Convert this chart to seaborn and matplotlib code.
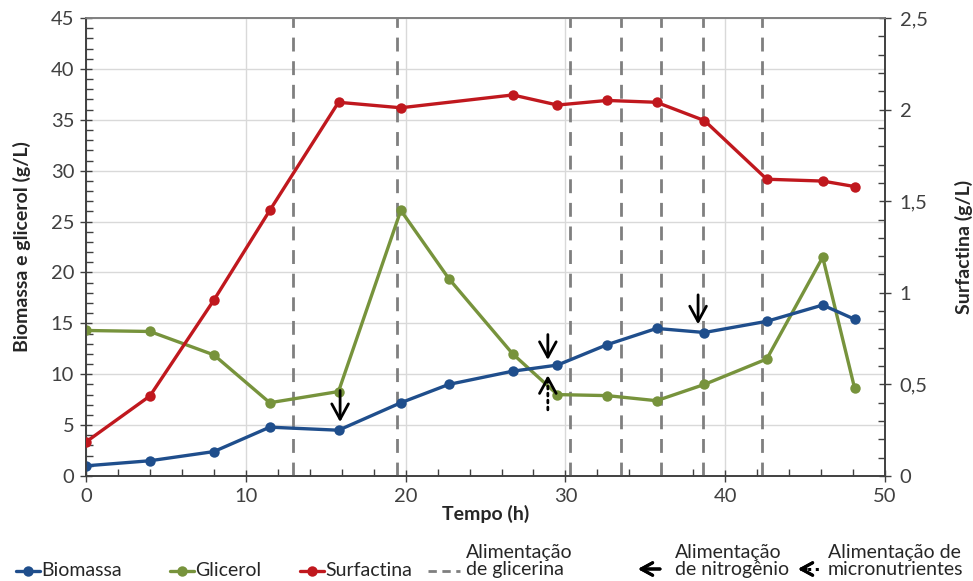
import numpy as np
import pandas as pd
import seaborn as sns
import matplotlib
matplotlib.use("Agg")
import matplotlib.pyplot as plt
from matplotlib.lines import Line2D
from matplotlib.ticker import MultipleLocator, FuncFormatter

# Sampling times (h)
tempo = [0, 4, 8, 11.5, 15.8, 19.7, 22.7, 26.7, 29.5, 32.6, 35.7, 38.7, 42.6, 46.1, 48.1]
biomassa = [1.0, 1.5, 2.4, 4.8, 4.5, 7.2, 9.0, 10.3, 10.9, 12.9, 14.5, 14.1, 15.2, 16.8, 15.4]
glicerol = [14.3, 14.2, 11.9, 7.2, 8.3, 26.1, 19.4, 12.0, 8.0, 7.9, 7.4, 9.0, 11.5, 21.5, 8.6]

# Surfactin was not measured at 22.7 h
tempo_surf = [0, 4, 8, 11.5, 15.8, 19.7, 26.7, 29.5, 32.6, 35.7, 38.7, 42.6, 46.1, 48.1]
surfactina = [0.186, 0.437, 0.96, 1.45, 2.04, 2.01, 2.08, 2.025, 2.05, 2.04, 1.94, 1.62, 1.61, 1.58]

# Feeding events (h)
alim_glicerina = [12.95, 19.45, 30.3, 33.5, 36.0, 38.6, 42.3]
# (x, y_start, y_end) on the left axis
alim_nitrogenio = [(15.9, 8.4, 5.3), (28.9, 13.9, 11.4), (38.3, 17.8, 14.9)]
alim_micro = [(28.9, 6.5, 9.9)]

c_bio = "#1F4E8C"
c_gli = "#77933C"
c_sur = "#C0181E"

sns.set_theme(style="white")
plt.rcParams["font.family"] = ["Lato", "DejaVu Sans"]

fig = plt.figure(figsize=(9.73, 5.81), dpi=100)
ax = fig.add_axes([0.0884, 0.1807, 0.8212, 0.7883])
ax2 = ax.twinx()

df = pd.DataFrame({"Tempo": tempo, "Biomassa": biomassa, "Glicerol": glicerol})
dfs = pd.DataFrame({"Tempo": tempo_surf, "Surfactina": surfactina})

line_kw = dict(marker="o", markersize=7.5, linewidth=2.4, markeredgewidth=0)
sns.lineplot(data=df, x="Tempo", y="Biomassa", ax=ax, color=c_bio, sort=False, zorder=5, **line_kw)
sns.lineplot(data=df, x="Tempo", y="Glicerol", ax=ax, color=c_gli, sort=False, zorder=4, **line_kw)
sns.lineplot(data=dfs, x="Tempo", y="Surfactina", ax=ax2, color=c_sur, sort=False, zorder=5, **line_kw)

# Glycerin feeding lines
for xv in alim_glicerina:
    ax.axvline(xv, color="#7F7F7F", linestyle=(0, (5, 3.5)), linewidth=2.0, zorder=3)

# Nitrogen feeding arrows (solid) and micronutrient arrows (dotted shaft, solid head)
arrow_style = "->,head_length=0.55,head_width=0.3"
for xv, y0, y1 in alim_nitrogenio:
    ax.annotate("", xy=(xv, y1), xytext=(xv, y0),
                arrowprops=dict(arrowstyle=arrow_style, color="black", lw=2.0,
                                mutation_scale=20, shrinkA=0, shrinkB=0), zorder=7)
for xv, y0, y1 in alim_micro:
    ax.annotate("", xy=(xv, y1), xytext=(xv, y0),
                arrowprops=dict(arrowstyle="-", color="black", lw=2.0,
                                linestyle=(0, (1, 1.5)), shrinkA=0, shrinkB=0), zorder=7)
    ax.annotate("", xy=(xv, y1), xytext=(xv, y1 - 0.2 * (y1 - y0)),
                arrowprops=dict(arrowstyle=arrow_style, color="black", lw=2.0,
                                mutation_scale=20, shrinkA=0, shrinkB=0), zorder=7)

# Axes limits and ticks
ax.set_xlim(0, 50)
ax.set_ylim(0, 45)
ax2.set_ylim(0, 2.5)
ax.xaxis.set_major_locator(MultipleLocator(10))
ax.xaxis.set_minor_locator(MultipleLocator(2))
ax.yaxis.set_major_locator(MultipleLocator(5))
ax.yaxis.set_minor_locator(MultipleLocator(1))
ax2.yaxis.set_major_locator(MultipleLocator(0.5))
ax2.yaxis.set_minor_locator(MultipleLocator(0.1))
ax2.yaxis.set_major_formatter(FuncFormatter(lambda v, p: f"{v:g}".replace(".", ",")))

ax.grid(True, which="major", color="#D9D9D9", linewidth=1.0)
ax.set_axisbelow(True)

ax.tick_params(axis="both", which="major", direction="inout", length=9, width=1.0,
               color="#404040", labelsize=14.5, labelcolor="#404040", pad=4,
               left=True, bottom=True)
ax.tick_params(axis="both", which="minor", direction="in", length=5, width=1.0,
               color="#404040", left=True, bottom=True)
ax2.tick_params(axis="y", which="major", direction="inout", length=9, width=1.0,
                color="#404040", labelsize=14.5, labelcolor="#404040", right=True, pad=6)
ax2.tick_params(axis="y", which="minor", direction="in", length=5, width=1.0,
                color="#404040", right=True)

for a in (ax, ax2):
    for side in ("left", "bottom", "right"):
        a.spines[side].set_color("#404040")
        a.spines[side].set_linewidth(1.2)
    a.spines["top"].set_color("#808080")
    a.spines["top"].set_linewidth(1.2)

ax.set_xlabel("Tempo (h)", fontsize=14, fontweight="bold", color="#262626", labelpad=0)
ax.set_ylabel("Biomassa e glicerol (g/L)", fontsize=14, fontweight="bold", color="#262626", labelpad=14)
ax2.set_ylabel("Surfactina (g/L)", fontsize=14, fontweight="bold", color="#262626", labelpad=20)

# Legend row along the bottom, in figure pixels
W, H = 973, 581

def fx(px):
    return px / W

def fy(py):
    return 1 - py / H

ly = 571
fs = 14
txt_kw = dict(fontsize=fs, color="#262626", va="center", ha="left")
two_kw = dict(fontsize=fs, color="#262626", va="center", ha="left",
              multialignment="left", linespacing=1.0)
for x0, col, label in [(16, c_bio, "Biomassa"), (170, c_gli, "Glicerol"), (300, c_sur, "Surfactina")]:
    fig.add_artist(Line2D([fx(x0), fx(x0 + 24)], [fy(ly), fy(ly)], color=col, lw=2.4,
                          transform=fig.transFigure))
    fig.add_artist(Line2D([fx(x0 + 12)], [fy(ly)], color=col, marker="o", markersize=7.5,
                          markeredgewidth=0, transform=fig.transFigure))
    fig.text(fx(x0 + 25), fy(ly), label, **txt_kw)

fig.add_artist(Line2D([fx(428), fx(460)], [fy(ly), fy(ly)], color="#7F7F7F", lw=2.0,
                      linestyle=(0, (3, 2)), transform=fig.transFigure))
fig.text(fx(466), fy(ly - 10), "Alimentação\nde glicerina", **two_kw)

fig.add_artist(plt.annotate("", xy=(fx(638), fy(ly - 2)), xytext=(fx(660), fy(ly - 2)),
                            xycoords="figure fraction", textcoords="figure fraction",
                            arrowprops=dict(arrowstyle=arrow_style, color="black", lw=2.2,
                                            mutation_scale=15, shrinkA=0, shrinkB=0)))
fig.text(fx(675), fy(ly - 10), "Alimentação\nde nitrogênio", **two_kw)

fig.add_artist(Line2D([fx(800), fx(822)], [fy(ly - 2), fy(ly - 2)], color="black", lw=2.2,
                      linestyle=(0, (1, 1.5)), transform=fig.transFigure))
fig.add_artist(plt.annotate("", xy=(fx(798), fy(ly - 2)), xytext=(fx(806), fy(ly - 2)),
                            xycoords="figure fraction", textcoords="figure fraction",
                            arrowprops=dict(arrowstyle=arrow_style, color="black", lw=2.2,
                                            mutation_scale=15, shrinkA=0, shrinkB=0)))
fig.text(fx(828), fy(ly - 10), "Alimentação de\nmicronutrientes", **two_kw)

fig.savefig("out.png", dpi=100, facecolor="white")
